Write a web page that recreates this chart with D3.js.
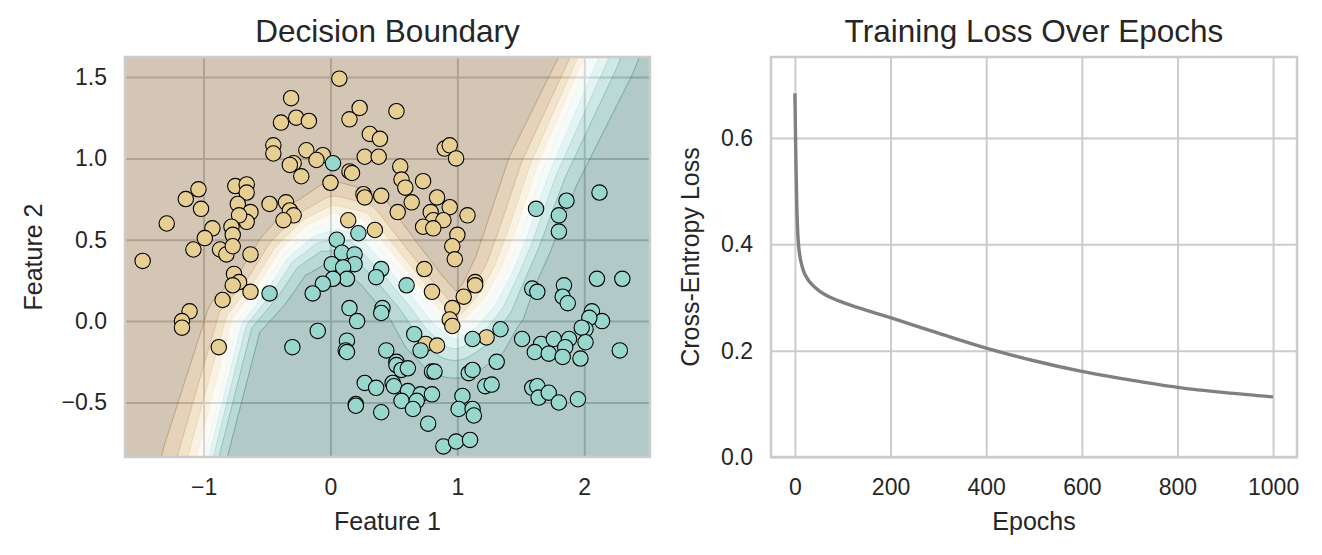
<!DOCTYPE html>
<html>
<head>
<meta charset="utf-8">
<script src="https://cdn.jsdelivr.net/npm/d3@7"></script>
<style>
body { margin: 0; background: #fff; }
text { font-family: "Liberation Sans", Arial, sans-serif; fill: #262626; }
</style>
</head>
<body>
<svg id="chart" width="1322" height="555"></svg>
<script>
// ---- data ----
// class 0 (upper moon, tan)
var moon0X = [0.07, -0.31, -0.27, -0.39, -0.17, 0.15, 0.23, 0.52, 0.31, 0.39,
    -0.45, -0.45, -0.19, -0.06, -0.11, -0.29, -0.23, 0.27, 0.38, 0.15,
    0.17, 0.00, 0.26, 0.27, 0.40, 0.90, 0.94, 0.99, 0.55, 0.56,
    0.59, 0.73, 0.64, 0.53, 0.84, 0.94, 0.79, 0.81, 0.89, 0.73,
    1.08, 1.00, 0.96, 0.98, 0.74, 1.14, 1.14, 0.80, 1.05, 0.96,
    0.94, 0.96, 0.75, 0.84, 1.23, 0.14, 0.35, -0.75, -0.66, -0.66,
    -1.04, -1.14, -1.02, -0.73, -0.63, -0.66, -0.72, -0.48, -0.35, -0.32,
    -0.29, -0.37, -1.29, -0.93, -0.78, -0.77, -0.99, -1.08, -0.87, -0.82,
    -0.77, -0.63, -1.48, -0.76, -0.72, -0.77, -0.63, -0.85, -1.11, -1.17,
    -1.17, -0.88, 0.81, -0.32];
var moon0Y = [1.49, 1.37, 1.25, 1.22, 1.23, 1.24, 1.31, 1.29, 1.15, 1.12,
    1.08, 1.03, 1.05, 1.02, 0.99, 0.97, 0.89, 1.01, 1.01, 0.92,
    0.91, 0.85, 0.78, 0.76, 0.77, 1.06, 1.08, 1.00, 0.95, 0.87,
    0.82, 0.86, 0.73, 0.67, 0.76, 0.70, 0.67, 0.62, 0.62, 0.58,
    0.65, 0.53, 0.46, 0.38, 0.32, 0.24, 0.22, 0.18, 0.15, 0.08,
    0.01, -0.03, -0.14, -0.15, -0.10, 0.62, 0.56, 0.83, 0.84, 0.79,
    0.81, 0.75, 0.69, 0.72, 0.67, 0.61, 0.65, 0.72, 0.73, 0.68,
    0.65, 0.62, 0.60, 0.57, 0.58, 0.53, 0.51, 0.44, 0.44, 0.41,
    0.46, 0.41, 0.37, 0.29, 0.24, 0.22, 0.18, 0.13, 0.06, 0.00,
    -0.04, -0.16, 0.57, 0.96];
// class 1 (lower moon, teal)
var moon1X = [0.02, -0.48, 0.05, 0.22, 0.09, 0.19, 0.19, 0.01, 0.10, 0.13,
    0.02, -0.06, -0.14, 0.40, 0.36, 0.60, 0.15, 0.21, 0.41, 0.40,
    -0.10, -0.30, 0.13, 0.12, 0.13, 0.44, 0.66, 0.71, 0.52, 0.52,
    0.56, 0.61, 0.80, 0.82, 1.09, 1.12, 1.12, 0.27, 0.36, 0.49,
    0.50, 0.61, 0.71, 0.80, 0.56, 0.68, 0.65, 0.20, 0.20, 0.40,
    0.77, 1.04, 1.01, 1.12, 1.13, 0.89, 0.99, 1.10, 1.22, 1.27,
    1.31, 1.34, 1.51, 1.62, 1.86, 1.80, 1.80, 2.12, 2.10, 2.30,
    1.59, 1.63, 1.84, 1.83, 1.87, 2.06, 2.14, 2.04, 2.01, 1.98,
    1.66, 1.61, 1.72, 1.76, 1.88, 1.85, 1.83, 2.01, 1.97, 2.28,
    1.59, 1.63, 1.64, 1.72, 1.80, 1.95];
var moon1Y = [0.97, 0.17, 0.50, 0.54, 0.42, 0.41, 0.35, 0.35, 0.33, 0.26,
    0.26, 0.23, 0.17, 0.32, 0.27, 0.22, 0.08, 0.00, 0.08, 0.05,
    -0.06, -0.16, -0.12, -0.18, -0.19, -0.18, -0.08, -0.18, -0.25, -0.27,
    -0.30, -0.29, -0.31, -0.31, -0.32, -0.30, -0.11, -0.38, -0.41, -0.38,
    -0.40, -0.43, -0.45, -0.45, -0.49, -0.49, -0.54, -0.51, -0.52, -0.56,
    -0.63, -0.46, -0.54, -0.54, -0.58, -0.77, -0.74, -0.73, -0.40, -0.39,
    -0.25, -0.05, -0.11, 0.69, 0.74, 0.65, 0.55, 0.79, 0.26, 0.26,
    0.20, 0.18, 0.22, 0.15, 0.11, 0.06, 0.00, 0.02, -0.05, -0.04,
    -0.14, -0.19, -0.20, -0.11, -0.11, -0.16, -0.22, -0.13, -0.23, -0.18,
    -0.41, -0.40, -0.47, -0.44, -0.50, -0.48];

// p = 0.5 line of the classifier
var boundaryX = [-1.07, -0.99, -0.73, -0.53, -0.37, -0.16, 0.035, 0.23, 0.47, 0.70,
    0.86, 0.98, 1.10, 1.26, 1.39, 1.49, 1.675, 2.045, 2.16];
var boundaryY = [-1.10, -0.83, 0.00, 0.21, 0.41, 0.56, 0.62, 0.59, 0.375, 0.16,
    0.02, -0.055, -0.006, 0.13, 0.31, 0.50, 0.93, 1.625, 1.85];
// gap (px) from the 0.5 line to the 0.1 line (brown side) and to the 0.9 line (teal side)
var spreadBrown = [42, 42, 32, 28, 28, 32, 38, 36, 32, 30, 30, 30, 30, 32, 34, 36, 36, 28, 28];
var spreadTeal = [22, 22, 24, 28, 30, 38, 48, 45, 38, 38, 45, 48, 45, 38, 32, 33, 37, 46, 46];
var probLevels = [0.1, 0.2, 0.3, 0.4, 0.5, 0.6, 0.7, 0.8, 0.9];

var epochs = [0, 2, 4, 6, 8, 12, 18, 25, 35, 50, 75, 100, 150, 200, 300, 400, 500, 600, 700, 800, 900, 1000];
var loss = [0.684, 0.56, 0.47, 0.42, 0.395, 0.37, 0.35, 0.337, 0.325, 0.313, 0.300, 0.291, 0.276, 0.262,
    0.233, 0.205, 0.181, 0.161, 0.145, 0.131, 0.121, 0.113];

var featTicksX = [-1, 0, 1, 2];
var featTicksY = [-0.5, 0, 0.5, 1, 1.5];
var epochTicks = [0, 200, 400, 600, 800, 1000];
var lossTicks = [0, 0.2, 0.4, 0.6];

// ---- layout ----
var svg = d3.select('#chart');
var boxL = {left: 125, right: 650, top: 57, bottom: 457};
var boxR = {left: 771, right: 1297, top: 57, bottom: 457};

var brbg = d3.piecewise(d3.interpolateRgb, d3.schemeBrBG[11]);
var gridColor = '#cccccc';

function drawGrid(g, box, xs, ys, xt, yt, xf, yf) {
    var h = box.bottom - box.top, w = box.right - box.left;
    var xa = g.append('g')
        .attr('transform', `translate(0, ${box.bottom})`)
        .call(d3.axisBottom(xs).tickValues(xt).tickFormat(xf).tickSizeInner(-h).tickSizeOuter(0).tickPadding(22));
    var ya = g.append('g')
        .attr('transform', `translate(${box.left}, 0)`)
        .call(d3.axisLeft(ys).tickValues(yt).tickFormat(yf).tickSizeInner(-w).tickSizeOuter(0).tickPadding(18));
    [xa, ya].forEach(function(a) {
        a.select('.domain').remove();
        a.selectAll('line').attr('stroke', gridColor).attr('stroke-width', 2);
        a.selectAll('text').attr('font-size', 23).attr('fill', '#262626');
    });
}

function frame(box) {
    svg.append('rect')
        .attr('x', box.left).attr('y', box.top)
        .attr('width', box.right - box.left).attr('height', box.bottom - box.top)
        .attr('fill', 'none').attr('stroke', gridColor).attr('stroke-width', 2.5);
}

function labels(box, title, xl, yl, ylx) {
    var cx = (box.left + box.right) / 2;
    svg.append('text').attr('x', cx).attr('y', 42).attr('text-anchor', 'middle')
        .attr('font-size', 31.5).text(title);
    svg.append('text').attr('x', cx).attr('y', 530).attr('text-anchor', 'middle')
        .attr('font-size', 25).text(xl);
    svg.append('text')
        .attr('transform', `translate(${ylx}, ${(box.top + box.bottom) / 2}) rotate(-90)`)
        .attr('text-anchor', 'middle').attr('dy', '0.35em')
        .attr('font-size', 25).text(yl);
}

// ---- left: decision boundary ----
var xF = d3.scaleLinear().domain([-1.619, 2.518]).range([boxL.left, boxL.right]);
var yF = d3.scaleLinear().domain([-0.835, 1.623]).range([boxL.bottom, boxL.top]);

var leftG = svg.append('g');
drawGrid(leftG, boxL, xF, yF, featTicksX, featTicksY, d3.format('d'), d3.format('.1f'));

svg.append('clipPath').attr('id', 'clipL')
    .append('rect')
    .attr('x', boxL.left).attr('y', boxL.top)
    .attr('width', boxL.right - boxL.left).attr('height', boxL.bottom - boxL.top);

// probability field built from the boundary line and its band spacing
var step = 2;
var nx = Math.ceil((boxL.right - boxL.left) / step);
var ny = Math.ceil((boxL.bottom - boxL.top) / step);
var bp = boundaryX.map((v, i) => [xF(v), yF(boundaryY[i])]);
var last = bp[bp.length - 1];
var tealSide = bp.concat([[last[0] + 400, last[1] - 300], [last[0] + 400, 900], [bp[0][0], 900]]);
var field = new Float64Array(nx * ny);

for (var j = 0; j < ny; j++) {
    for (var i = 0; i < nx; i++) {
        var px = boxL.left + (i + 0.5) * step;
        var py = boxL.top + (j + 0.5) * step;
        var best = Infinity, bk = 0, bt = 0;
        for (var k = 0; k < bp.length - 1; k++) {
            var ax = bp[k][0], ay = bp[k][1];
            var dx = bp[k + 1][0] - ax, dy = bp[k + 1][1] - ay;
            var t = ((px - ax) * dx + (py - ay) * dy) / (dx * dx + dy * dy);
            t = Math.max(0, Math.min(1, t));
            var ex = ax + t * dx - px, ey = ay + t * dy - py;
            var dd = ex * ex + ey * ey;
            if (dd < best) { best = dd; bk = k; bt = t; }
        }
        var dist = Math.sqrt(best);
        var inside = d3.polygonContains(tealSide, [px, py]);
        var w = inside
            ? spreadTeal[bk] + bt * (spreadTeal[bk + 1] - spreadTeal[bk])
            : spreadBrown[bk] + bt * (spreadBrown[bk + 1] - spreadBrown[bk]);
        var logit = (inside ? 1 : -1) * 2.1972 * dist / w;
        field[j * nx + i] = 1 / (1 + Math.exp(-logit));
    }
}

var contours = d3.contours().size([nx, ny]).thresholds(probLevels)(field);
var gridPath = d3.geoPath(d3.geoTransform({
    point: function(x, y) { this.stream.point(boxL.left + x * step, boxL.top + y * step); }
}));
var outer = `M${boxL.left - 2},${boxL.top - 2}H${boxL.right + 4}V${boxL.bottom + 4}H${boxL.left - 2}Z`;
var levelPaths = contours.map(c => gridPath(c) || '');

var bands = [];
for (var b = 0; b <= probLevels.length; b++) {
    var lo = b === 0 ? outer : levelPaths[b - 1];
    var hi = b < probLevels.length ? levelPaths[b] : '';
    bands.push({d: lo + hi, color: brbg((b + 0.5) / (probLevels.length + 1))});
}

leftG.append('g')
    .attr('clip-path', 'url(#clipL)')
    .selectAll('path')
    .data(bands)
    .enter()
    .append('path')
    .attr('d', d => d.d)
    .attr('fill-rule', 'evenodd')
    .attr('fill', d => d.color)
    .attr('fill-opacity', 0.3)
    .attr('stroke', d => d.color)
    .attr('stroke-opacity', 0.3)
    .attr('stroke-width', 0.7);

frame(boxL);

var pts = moon0X.map((v, i) => ({x: v, y: moon0Y[i], c: 0}))
    .concat(moon1X.map((v, i) => ({x: v, y: moon1Y[i], c: 1})));

svg.append('g')
    .selectAll('circle')
    .data(pts)
    .enter()
    .append('circle')
    .attr('cx', d => xF(d.x))
    .attr('cy', d => yF(d.y))
    .attr('r', 7.7)
    .attr('fill', d => d.c === 0 ? brbg(1 / 3) : brbg(2 / 3))
    .attr('stroke', '#000')
    .attr('stroke-width', 1.1);

labels(boxL, 'Decision Boundary', 'Feature 1', 'Feature 2', 33);

// ---- right: training loss ----
var xE = d3.scaleLinear().domain([-50, 1050]).range([boxR.left, boxR.right]);
var yE = d3.scaleLinear().domain([0, d3.max(loss) * 1.1]).range([boxR.bottom, boxR.top]);

var rightG = svg.append('g');
drawGrid(rightG, boxR, xE, yE, epochTicks, lossTicks, d3.format('d'), d3.format('.1f'));
frame(boxR);

var lossLine = d3.line()
    .x((d, i) => xE(epochs[i]))
    .y(d => yE(d))
    .curve(d3.curveMonotoneX);

svg.append('path')
    .datum(loss)
    .attr('d', lossLine)
    .attr('fill', 'none')
    .attr('stroke', '#808080')
    .attr('stroke-width', 3.4);

labels(boxR, 'Training Loss Over Epochs', 'Epochs', 'Cross-Entropy Loss', 690);
</script>
</body>
</html>
